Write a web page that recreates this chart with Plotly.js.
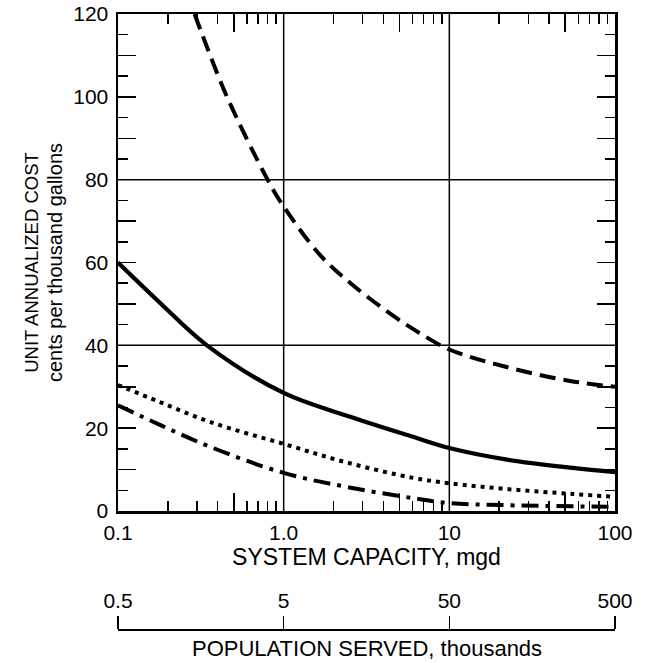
<!DOCTYPE html>
<html><head><meta charset="utf-8">
<script src="https://cdn.plot.ly/plotly-3.0.1.min.js"></script>
<style>html,body{margin:0;padding:0;background:#fff}#chart{width:649px;height:663px}</style>
</head><body><div id="chart"></div>
<script>
// ---- data ----
const dashedX = [0.29, 0.32, 0.455, 0.8, 1.0, 1.66, 2.62, 4.83, 6.6, 10, 21, 53.5, 100];
const dashedY = [120, 115.4, 100, 80, 73.5, 61.8, 54.5, 46.5, 43.0, 39, 35.0, 31.4, 30];
const solidX = [0.1, 0.179, 0.344, 1.0, 2.41, 6.04, 10, 22.3, 55.7, 100];
const solidY = [60, 50.3, 40, 28.5, 23.0, 17.9, 15.2, 12.4, 10.4, 9.4];
const dottedX = [0.1, 0.179, 0.359, 1.0, 2.41, 6.04, 10, 22.3, 55.7, 100];
const dottedY = [30.4, 26.3, 21.5, 16.2, 11.7, 8.0, 6.7, 5.3, 4.1, 3.4];
const dashDotX = [0.1, 0.179, 0.359, 1.0, 2.41, 6.04, 10, 22.3, 100];
const dashDotY = [25.5, 20.8, 15.5, 9.2, 5.8, 3.1, 1.9, 1.4, 1.0];

const xLabelVals = [0.1, 1, 10, 100];
const xLabelText = ['0.1', '1.0', '10', '100'];
const xLongTicks = [0.5, 5, 50];
const xShortTicks = [0.2,0.3,0.4,0.6,0.7,0.8,0.9, 2,3,4,6,7,8,9, 20,30,40,60,70,80,90];
const yLabelVals = [0, 20, 40, 60, 80, 100, 120];
const yLongTicks = [10, 30, 50, 70, 90, 110];
const yShortTicks = [5, 15, 25, 35, 45, 55, 65, 75, 85, 95, 105, 115];
const gridXVals = [1, 10];
const gridYVals = [40, 80];
const popVals = [0.5, 5, 50, 500];
const popText = ['0.5', '5', '50', '500'];
const xRange = [0.1, 100];
const yRange = [0, 120];
const popRange = [0.5, 500];

// ---- build ----
const FONT = 'Liberation Sans, Arial, Helvetica, sans-serif';
const xTickVals = xLabelVals.concat(xLongTicks);
const xTickText = xLabelText.concat(xLongTicks.map(() => ''));
const yTickVals = yLabelVals.concat(yLongTicks);
const yTickText = yLabelVals.map(String).concat(yLongTicks.map(() => ''));

function line(x, y, width, dash) {
  return {x, y, type: 'scatter', mode: 'lines', xaxis: 'x', yaxis: 'y',
    line: {color: '#000', width, dash, shape: 'spline', smoothing: 1},
    hoverinfo: 'skip', showlegend: false};
}
const traces = [
  line(dashedX, dashedY, 4, '16px,8px'),
  line(solidX, solidY, 4.2, 'solid'),
  line(dottedX, dottedY, 4, '4px,5px'),
  line(dashDotX, dashDotY, 4, '17px,7px,4px,7px'),
  {x: popVals, y: popVals.map(() => null), xaxis: 'x2', yaxis: 'y', type: 'scatter',
   mode: 'lines', hoverinfo: 'skip', showlegend: false}
];

const shapes = [];
gridXVals.forEach(v => shapes.push({type: 'line', xref: 'x', yref: 'y', x0: v, x1: v,
  y0: yRange[0], y1: yRange[1], line: {color: '#000', width: 1.5}, layer: 'below'}));
gridYVals.forEach(v => shapes.push({type: 'line', xref: 'x', yref: 'y', y0: v, y1: v,
  x0: xRange[0], x1: xRange[1], line: {color: '#000', width: 1.5}, layer: 'below'}));

const domBottom = (629 - 511) / (663 - 14 - 34);

const layout = {
  width: 649, height: 663,
  margin: {l: 118, r: 34, t: 14, b: 34, pad: 0},
  paper_bgcolor: '#fff', plot_bgcolor: '#fff',
  font: {family: FONT, color: '#000', size: 21},
  showlegend: false,
  xaxis: {
    type: 'log', range: xRange.map(Math.log10), domain: [0, 1],
    tickmode: 'array', tickvals: xTickVals, ticktext: xTickText,
    ticks: 'inside', ticklen: 18, tickwidth: 1.5, tickcolor: '#000',
    minor: {tickmode: 'array', tickvals: xShortTicks, ticks: 'inside', ticklen: 10, tickwidth: 1.5, tickcolor: '#000', showgrid: false},
    showgrid: false, zeroline: false, showline: true, linewidth: 2.5, linecolor: '#000', mirror: 'ticks',
    tickfont: {size: 21}, ticklabelstandoff: 1,
    title: {text: 'SYSTEM CAPACITY, mgd', font: {size: 23}, standoff: 4},
    fixedrange: true
  },
  xaxis2: {
    type: 'log', range: popRange.map(Math.log10), overlaying: 'x', anchor: 'free', position: 0,
    side: 'top', tickmode: 'array', tickvals: popVals, ticktext: popText,
    ticks: 'outside', ticklen: 13, tickwidth: 1.5, tickcolor: '#000',
    showgrid: false, zeroline: false, showline: true, linewidth: 1.5, linecolor: '#000',
    tickfont: {size: 21}, fixedrange: true
  },
  yaxis: {
    range: yRange, domain: [domBottom, 1],
    tickmode: 'array', tickvals: yTickVals, ticktext: yTickText,
    ticks: 'inside', ticklen: 18, tickwidth: 1.5, tickcolor: '#000',
    minor: {tickmode: 'array', tickvals: yShortTicks, ticks: 'inside', ticklen: 10, tickwidth: 1.5, tickcolor: '#000', showgrid: false},
    showgrid: false, zeroline: false, showline: true, linewidth: 2.5, linecolor: '#000', mirror: 'ticks',
    tickfont: {size: 21}, ticklabelstandoff: 3,
    title: {text: 'UNIT ANNUALIZED COST<br><span style="font-size:20px">cents per thousand gallons</span>', font: {size: 18.5}, standoff: 6},
    fixedrange: true
  },
  shapes,
  annotations: [{
    text: 'POPULATION SERVED, thousands', xref: 'paper', yref: 'paper', x: 0.5, y: 0,
    xanchor: 'center', yanchor: 'top', yshift: -5, showarrow: false, font: {size: 22}
  }]
};

Plotly.newPlot('chart', traces, layout, {displayModeBar: false, staticPlot: true});
</script>
</body></html>
